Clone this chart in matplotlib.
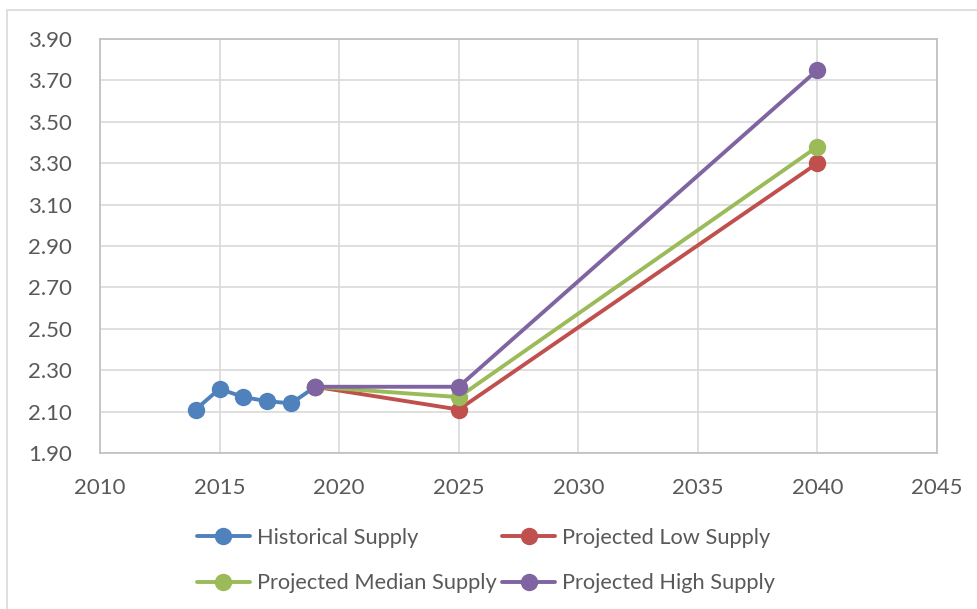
import matplotlib.pyplot as plt
from matplotlib.patches import Rectangle

plt.rcParams['font.family'] = ['Lato', 'DejaVu Sans']

hist_years = [2014, 2015, 2016, 2017, 2018, 2019]
hist_supply = [2.11, 2.21, 2.17, 2.15, 2.14, 2.22]

proj_years = [2019, 2025, 2040]
low_supply = [2.22, 2.11, 3.30]
median_supply = [2.22, 2.17, 3.38]
high_supply = [2.22, 2.22, 3.75]

yticks = [1.90, 2.10, 2.30, 2.50, 2.70, 2.90, 3.10, 3.30, 3.50, 3.70, 3.90]
xticks = [2010, 2015, 2020, 2025, 2030, 2035, 2040, 2045]

text_color = '#595959'
grid_color = '#d9d9d9'

fig = plt.figure(figsize=(9.77, 6.09), dpi=100)
ax = fig.add_axes([100 / 977, 1 - 453 / 609, 837 / 977, 414 / 609])

style = dict(linewidth=2.8, marker='o', markersize=11.5, solid_capstyle='round')
h_hist, = ax.plot(hist_years, hist_supply, color='#4f81bd', label='Historical Supply', **style)
h_low, = ax.plot(proj_years, low_supply, color='#c0504d', label='Projected Low Supply', **style)
h_med, = ax.plot(proj_years, median_supply, color='#9bbb59', label='Projected Median Supply', **style)
h_high, = ax.plot(proj_years, high_supply, color='#8064a2', label='Projected High Supply', **style)

ax.set_xlim(2010, 2045)
ax.set_ylim(1.90, 3.90)
ax.set_xticks(xticks)
ax.set_yticks(yticks)
ax.set_yticklabels(['%.2f' % v for v in yticks])
ax.grid(True, color=grid_color, linewidth=1.2)
ax.set_axisbelow(True)
for s in ax.spines.values():
    s.set_color('#bfbfbf')
    s.set_linewidth(1.2)
ax.tick_params(length=0, labelsize=16, colors=text_color)
ax.tick_params(axis='x', pad=18)
ax.tick_params(axis='y', pad=20)

# legend laid out row-wise: Historical / Low, Median / High
leg = fig.legend([h_hist, h_med, h_low, h_high],
                 [h.get_label() for h in [h_hist, h_med, h_low, h_high]],
                 ncol=2, loc='upper left', bbox_to_anchor=(197 / 977, 1 - 528 / 609),
                 frameon=False, fontsize=15.7, handlelength=2.43, handletextpad=0.32,
                 columnspacing=0.25, labelspacing=1.16, borderpad=0, borderaxespad=0)
for t in leg.get_texts():
    t.set_color(text_color)

# chart area border
fig.patches.append(Rectangle((7 / 977, -0.1), 1.1, 1 - 9.5 / 609 + 0.1,
                             transform=fig.transFigure, fill=False,
                             edgecolor='#d9d9d9', linewidth=1.2))

fig.savefig('out.png', dpi=100)
